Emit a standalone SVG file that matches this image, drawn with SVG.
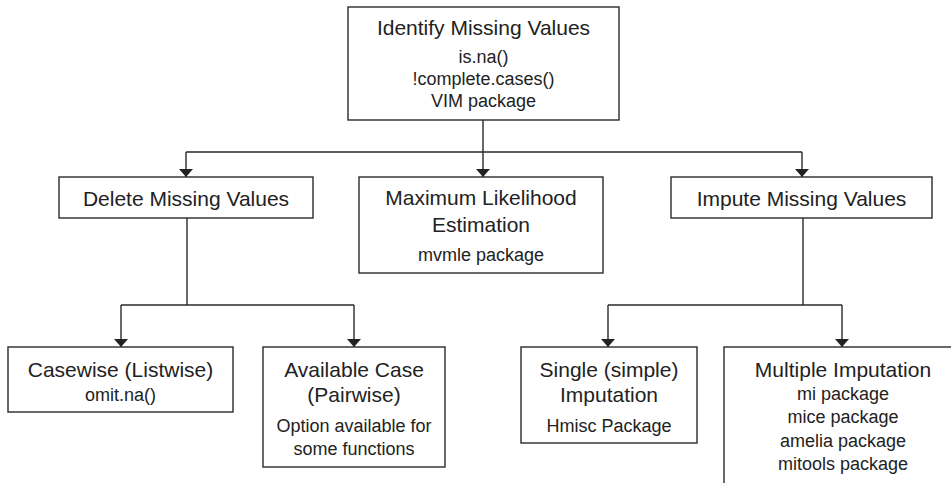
<svg xmlns="http://www.w3.org/2000/svg" width="951" height="483" viewBox="0 0 951 483">
<defs>
<style>
.box{fill:#fff;stroke:#2a2a2a;stroke-width:1.4}
.t{font-family:"Liberation Sans",Arial,sans-serif;font-size:21px;fill:#222;text-anchor:middle}
.s{font-family:"Liberation Sans",Arial,sans-serif;font-size:18px;fill:#222;text-anchor:middle}
.c{fill:none;stroke:#2a2a2a;stroke-width:1.4}
</style>
<marker id="ah" markerUnits="userSpaceOnUse" markerWidth="8" markerHeight="14" refX="8" refY="7" orient="auto" viewBox="0 0 8 14">
<path d="M0,0 L8,7 L0,14 Z" fill="#222"/>
</marker>
</defs>
<rect width="951" height="483" fill="#fff"/>
<g id="connectors">
<path class="c" d="M483,120 V152 M186,152 H802"/>
<path class="c" d="M186,152 V177" marker-end="url(#ah)"/>
<path class="c" d="M483,152 V177" marker-end="url(#ah)"/>
<path class="c" d="M802,152 V177" marker-end="url(#ah)"/>
<path class="c" d="M187,218 V305 M121,305 H354"/>
<path class="c" d="M121,305 V347" marker-end="url(#ah)"/>
<path class="c" d="M354,305 V347" marker-end="url(#ah)"/>
<path class="c" d="M803,218 V305 M608,305 H842"/>
<path class="c" d="M608,305 V347" marker-end="url(#ah)"/>
<path class="c" d="M842,305 V347" marker-end="url(#ah)"/>
</g>
<g id="identify">
<rect class="box" x="348" y="7" width="271" height="113"/>
<text class="t" x="483.5" y="35">Identify Missing Values</text>
<text class="s" x="483.5" y="63">is.na()</text>
<text class="s" x="483.5" y="85">!complete.cases()</text>
<text class="s" x="483.5" y="107">VIM package</text>
</g>
<g id="delete">
<rect class="box" x="59" y="177" width="254" height="41"/>
<text class="t" x="186" y="206">Delete Missing Values</text>
</g>
<g id="mle">
<rect class="box" x="359" y="177" width="244" height="96"/>
<text class="t" x="481" y="205">Maximum Likelihood</text>
<text class="t" x="481" y="232">Estimation</text>
<text class="s" x="481" y="261">mvmle package</text>
</g>
<g id="impute">
<rect class="box" x="671" y="177" width="261" height="41"/>
<text class="t" x="801.5" y="206">Impute Missing Values</text>
</g>
<g id="casewise">
<rect class="box" x="8" y="347" width="225" height="65"/>
<text class="t" x="120.5" y="377">Casewise (Listwise)</text>
<text class="s" x="120.5" y="401">omit.na()</text>
</g>
<g id="available">
<rect class="box" x="263" y="347" width="182" height="120"/>
<text class="t" x="354" y="377">Available Case</text>
<text class="t" x="354" y="402">(Pairwise)</text>
<text class="s" x="354" y="432">Option available for</text>
<text class="s" x="354" y="455">some functions</text>
</g>
<g id="single">
<rect class="box" x="521" y="347" width="176" height="96"/>
<text class="t" x="609" y="377">Single (simple)</text>
<text class="t" x="609" y="402">Imputation</text>
<text class="s" x="609" y="432">Hmisc Package</text>
</g>
<g id="multiple">
<rect class="box" x="724" y="347" width="240" height="150"/>
<text class="t" x="843" y="377">Multiple Imputation</text>
<text class="s" x="843" y="400">mi package</text>
<text class="s" x="843" y="423">mice package</text>
<text class="s" x="843" y="447">amelia package</text>
<text class="s" x="843" y="470">mitools package</text>
</g>
</svg>
